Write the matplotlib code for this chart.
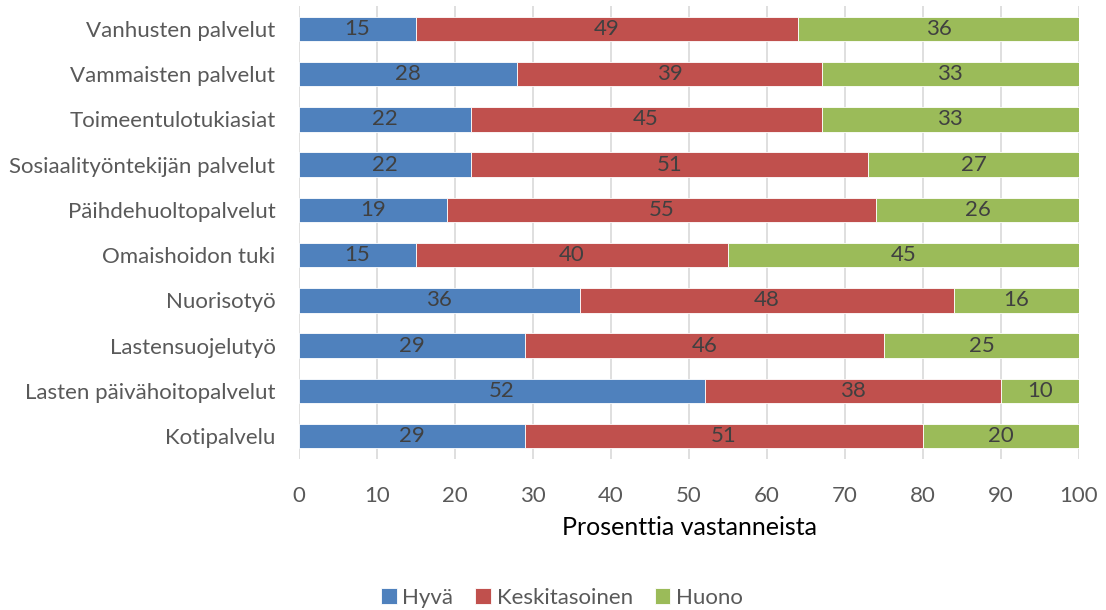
import matplotlib.pyplot as plt
import numpy as np

plt.rcParams['font.family'] = ['Lato', 'DejaVu Sans']

# Data, top to bottom as shown in the chart
categories = ['Vanhusten palvelut', 'Vammaisten palvelut', 'Toimeentulotukiasiat',
              'Sosiaalityöntekijän palvelut', 'Päihdehuoltopalvelut', 'Omaishoidon tuki',
              'Nuorisotyö', 'Lastensuojelutyö', 'Lasten päivähoitopalvelut', 'Kotipalvelu']
hyva = [15, 28, 22, 22, 19, 15, 36, 29, 52, 29]
keski = [49, 39, 45, 51, 55, 40, 48, 46, 38, 51]
huono = [36, 33, 33, 27, 26, 45, 16, 25, 10, 20]
series_names = ['Hyvä', 'Keskitasoinen', 'Huono']
colors = ['#4F81BD', '#C0504D', '#9BBB59']


def main():
    fig = plt.figure(figsize=(11.06, 6.10), dpi=100)
    ax = fig.add_axes([299 / 1106, 1 - 458.6 / 610, 780 / 1106, 452.2 / 610])

    y = np.arange(len(categories))[::-1]
    left = np.zeros(len(categories))
    for name, vals, col in zip(series_names, [hyva, keski, huono], colors):
        vals = np.array(vals)
        bars = ax.barh(y, vals, left=left, height=0.54, color=col, label=name,
                       edgecolor='white', linewidth=0.6, zorder=3)
        ax.bar_label(bars, labels=[str(v) for v in vals], label_type='center',
                     color='#404040', fontsize=16)
        left += vals

    ax.set_xlim(0, 100)
    ax.set_ylim(-0.5, len(categories) - 0.5)
    ax.set_xticks(range(0, 101, 10))
    ax.set_yticks(y)
    ax.set_yticklabels(categories)
    ax.tick_params(axis='both', length=0, labelsize=16, labelcolor='#595959')
    ax.tick_params(axis='y', pad=17)
    ax.tick_params(axis='x', pad=20)
    ax.grid(axis='x', color='#D9D9D9', linewidth=1.2, zorder=0)
    for s in ax.spines.values():
        s.set_visible(False)
    ax.set_xlabel('Prosenttia vastanneista', fontsize=18, color='#000000', labelpad=7)

    handles, labels = ax.get_legend_handles_labels()
    fig.legend(handles, labels, loc='center', bbox_to_anchor=(562 / 1106, 1 - 598 / 610),
               ncol=3, frameon=False, fontsize=16, handlelength=0.7, handleheight=0.7,
               handletextpad=0.25, columnspacing=1.0, labelcolor='#595959')

    fig.savefig('out.png', dpi=100)


if __name__ == "__main__":
    main()
